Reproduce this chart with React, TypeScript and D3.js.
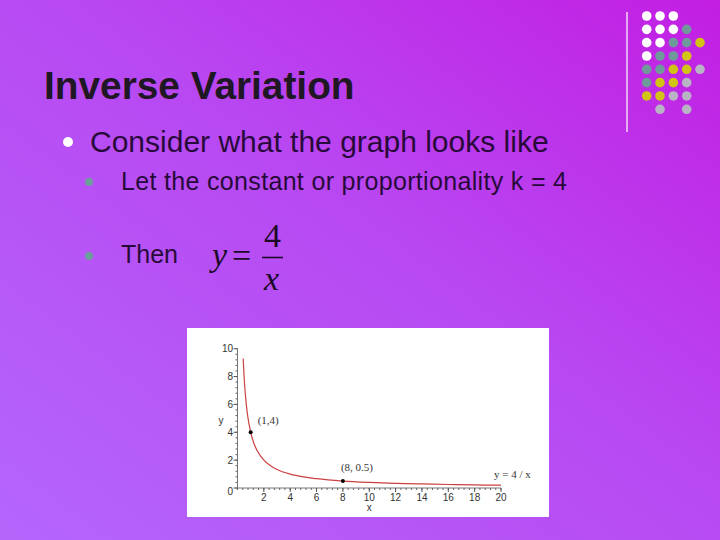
import React from "react";
import * as d3 from "d3";

// ---- data ----
const curveX = [0.43, 0.5, 0.6, 0.75, 1, 1.25, 1.5, 2, 2.5, 3, 4, 5, 6, 8, 10, 12, 14, 16, 18, 20];
const curveY = [9.3, 8, 6.67, 5.33, 4, 3.2, 2.67, 2, 1.6, 1.33, 1, 0.8, 0.67, 0.5, 0.4, 0.33, 0.29, 0.25, 0.22, 0.2];
const markedX = [1, 8];
const markedY = [4, 0.5];
const markedLabels = ["(1,4)", "(8, 0.5)"];
const xTicks = [2, 4, 6, 8, 10, 12, 14, 16, 18, 20];
const yTicks = [0, 2, 4, 6, 8, 10];
const dotRows = ["WWW", "WWWT", "WWTTY", "WTTY", "TTYYG", "TYYG", "YYGG", " G G"];
const dotColors: Record<string, string> = { W: "#ffffff", T: "#6f9a9b", Y: "#d2c414", G: "#b9b3c6" };

export default function App() {
  const x = d3.scaleLinear().domain([0, 20]).range([237.5, 501]);
  const y = d3.scaleLinear().domain([0, 10]).range([488, 348.7]);
  const pts: [number, number][] = curveX.map((v, i) => [v, curveY[i]]);
  const line = d3
    .line<[number, number]>()
    .x((d) => x(d[0]))
    .y((d) => y(d[1]))
    .curve(d3.curveMonotoneX);
  const minorX = d3.range(0, 20.001, 0.4);
  const minorY = d3.range(0, 10.001, 0.4);
  const chartFont = "'Liberation Sans', Arial, sans-serif";
  return (
    <svg
      width={720}
      height={540}
      style={{ position: "fixed", left: 0, top: 0, display: "block" }}
    >
      <defs>
        <linearGradient id="bg" x1="0" y1="1" x2="1" y2="0">
          <stop offset="0%" stopColor="#b466fb" />
          <stop offset="55%" stopColor="#b848f2" />
          <stop offset="100%" stopColor="#c21ee2" />
        </linearGradient>
      </defs>
      <rect x={0} y={0} width={720} height={540} fill="url(#bg)" />

      {/* decoration */}
      <line x1={627} y1={12} x2={627} y2={132} stroke="#f3d6f5" strokeWidth={1.5} />
      {dotRows.map((row, r) =>
        row.split("").map((c, ci) =>
          c === " " ? null : (
            <circle key={`${r}-${ci}`} cx={646.7 + 13.33 * ci} cy={16 + 13.33 * r} r={4.8} fill={dotColors[c]} />
          )
        )
      )}

      {/* text */}
      <text x={44} y={99} fontFamily="'Liberation Sans', Arial, sans-serif" fontWeight="bold" fontSize={38.8} fill="#1f1824">
        Inverse Variation
      </text>
      <circle cx={68} cy={142} r={5} fill="#ffffff" />
      <text x={90} y={151.5} fontFamily="'Liberation Sans', Arial, sans-serif" fontSize={30} fill="#280a3a">
        Consider what the graph looks like
      </text>
      <circle cx={89} cy={182} r={4} fill="#6a9f9a" />
      <text x={121} y={189.5} fontFamily="'Liberation Sans', Arial, sans-serif" fontSize={25} fill="#280a3a" textLength={446}>
        Let the constant or proportionality k = 4
      </text>
      <circle cx={89} cy={256} r={4} fill="#6a9f9a" />
      <text x={121} y={263} fontFamily="'Liberation Sans', Arial, sans-serif" fontSize={25} fill="#280a3a">
        Then
      </text>

      {/* formula */}
      <g fontFamily="'Liberation Serif', 'Times New Roman', serif" fill="#1c0a28">
        <text x={212} y={266} fontSize={34} fontStyle="italic">y</text>
        <text x={232} y={267} fontSize={34}>=</text>
        <text x={264} y={247} fontSize={34}>4</text>
        <line x1={262} y1={257.5} x2={283} y2={257.5} stroke="#1c0a28" strokeWidth={1.6} />
        <text x={264} y={290} fontSize={34} fontStyle="italic">x</text>
      </g>

      {/* chart */}
      <rect x={187} y={328} width={362} height={189} fill="#ffffff" />
      <g fontFamily={chartFont} fontSize={10} fill="#333">
        <line x1={x(0)} y1={y(0)} x2={x(20)} y2={y(0)} stroke="#777" strokeWidth={1} />
        <line x1={x(0)} y1={y(0)} x2={x(0)} y2={y(10)} stroke="#777" strokeWidth={1} />
        {minorX.map((v, i) => (
          <line key={"mx" + i} x1={x(v)} y1={y(0)} x2={x(v)} y2={y(0) + 2} stroke="#666" />
        ))}
        {minorY.map((v, i) => (
          <line key={"my" + i} x1={x(0) - 2} y1={y(v)} x2={x(0)} y2={y(v)} stroke="#666" />
        ))}
        {xTicks.map((v) => (
          <g key={"xt" + v}>
            <line x1={x(v)} y1={y(0)} x2={x(v)} y2={y(0) + 4} stroke="#555" />
            <text x={x(v)} y={501} textAnchor="middle">{v}</text>
          </g>
        ))}
        {yTicks.map((v) => (
          <g key={"yt" + v}>
            <line x1={x(0) - 4} y1={y(v)} x2={x(0)} y2={y(v)} stroke="#555" />
            <text x={233} y={y(v) + 3.5 + (v === 0 ? 3 : 0)} textAnchor="end">{v}</text>
          </g>
        ))}
        <text x={x(10)} y={511} textAnchor="middle">x</text>
        <text x={221} y={424} textAnchor="middle">y</text>
      </g>
      <path d={line(pts) || ""} fill="none" stroke="#cc4040" strokeWidth={1.2} />
      {markedX.map((v, i) => (
        <circle key={"p" + i} cx={x(v)} cy={y(markedY[i])} r={2} fill="#000" />
      ))}
      <g fontFamily="'Liberation Serif', 'Times New Roman', serif" fontSize={11} fill="#333">
        <text x={x(markedX[0]) + 7} y={424}>{markedLabels[0]}</text>
        <text x={x(markedX[1]) - 2} y={470.5}>{markedLabels[1]}</text>
        <text x={494} y={478}>y = 4 / x</text>
      </g>
    </svg>
  );
}
